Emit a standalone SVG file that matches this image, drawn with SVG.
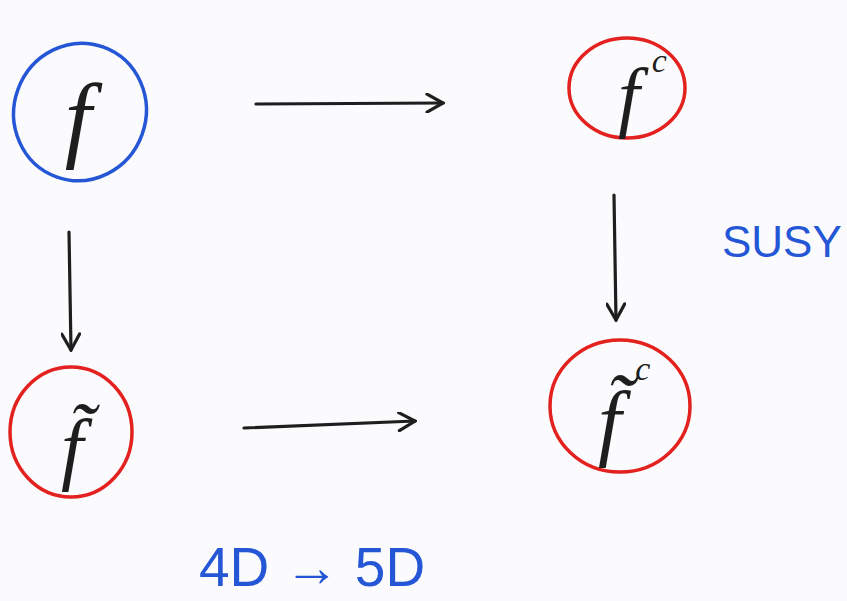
<svg xmlns="http://www.w3.org/2000/svg" width="847" height="601" viewBox="0 0 847 601">
<style>
.blue{fill:none;stroke:#2456d6;stroke-width:3.5}
.red{fill:none;stroke:#e3211e;stroke-width:3.5}
.arr{fill:none;stroke:#1e1e1e;stroke-width:3.2;stroke-linecap:round}
.sym{font-family:"Liberation Serif",serif;font-style:italic;fill:#1e1e1e}
.lbl{font-family:"Liberation Sans",sans-serif;fill:#2456d6}
</style>
<defs>
<marker id="ah" viewBox="0 0 20 20" refX="18" refY="10" markerWidth="20" markerHeight="20" markerUnits="userSpaceOnUse" orient="auto">
<path d="M2 1 L18 10 L2 19" fill="none" stroke="#1e1e1e" stroke-width="3.2" stroke-linecap="round"/>
</marker>
</defs>
<rect width="847" height="601" fill="#fbfbfd"/>
<g id="node-f">
<ellipse class="blue" cx="80" cy="112" rx="66" ry="69" transform="rotate(20 80 112)"/>
<text class="sym" x="78" y="150" font-size="96" text-anchor="middle">f</text>
</g>
<g id="node-fc">
<ellipse class="red" cx="627" cy="88" rx="58" ry="50"/>
<text class="sym" x="618" y="122" font-size="78">f<tspan font-size="34" dx="12" dy="-50">c</tspan></text>
</g>
<g id="node-ftilde">
<ellipse class="red" cx="71" cy="432" rx="61" ry="65"/>
<text class="sym" x="72" y="475" font-size="80" text-anchor="middle">f̃</text>
</g>
<g id="node-ftildec">
<ellipse class="red" cx="620" cy="406" rx="70" ry="66"/>
<text class="sym" x="598" y="450" font-size="84">f̃<tspan font-size="34" dx="14" dy="-70">c</tspan></text>
</g>
<g id="connectors">
<path class="arr" d="M256 104 L443 103" marker-end="url(#ah)"/>
<path class="arr" d="M69 232 L71 350" marker-end="url(#ah)"/>
<path class="arr" d="M614 195 L616 320" marker-end="url(#ah)"/>
<path class="arr" d="M244 428 L415 421" marker-end="url(#ah)"/>
</g>
<g id="labels">
<text class="lbl" x="722" y="257" font-size="44">SUSY</text>
<text class="lbl" x="199" y="586" font-size="55">4D → 5D</text>
</g>
</svg>
